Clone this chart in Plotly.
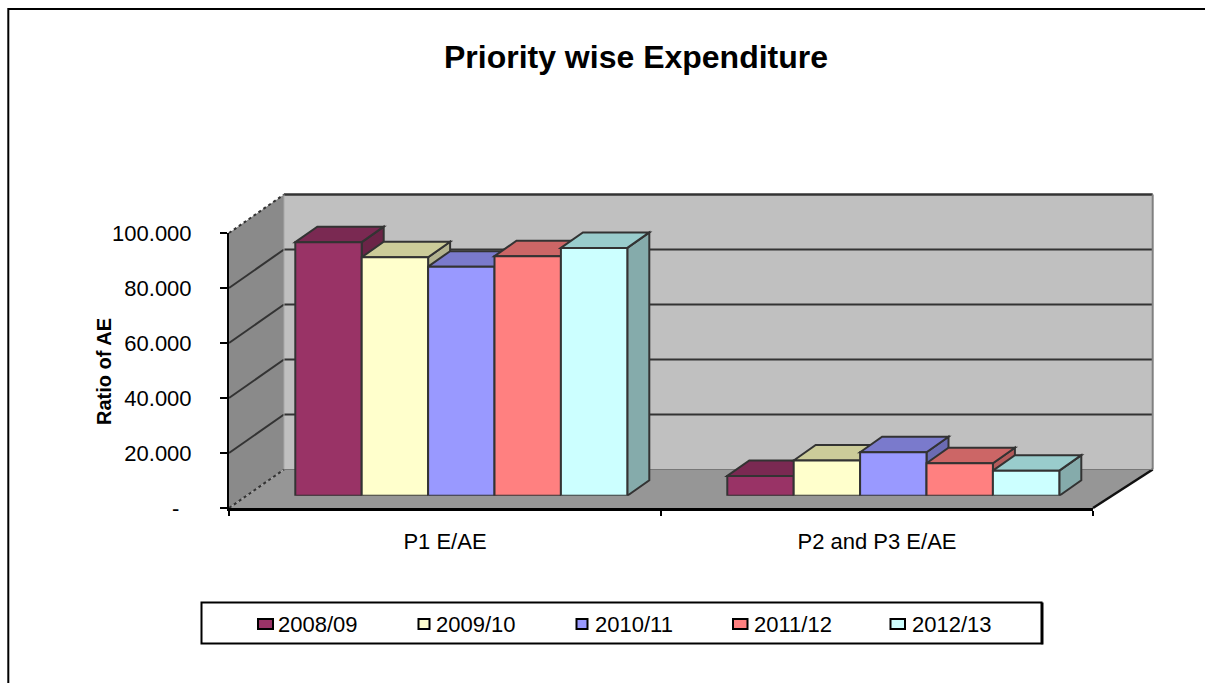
import plotly.graph_objects as go

W, H = 1205, 683

# ---- data ----
categories = ["P1 E/AE", "P2 and P3 E/AE"]
years = ["2008/09", "2009/10", "2010/11", "2011/12", "2012/13"]
v_2008 = [92.2, 7.2]
v_2009 = [86.7, 12.8]
v_2010 = [83.3, 15.8]
v_2011 = [87.1, 11.8]
v_2012 = [90.1, 9.1]
series_values = [v_2008, v_2009, v_2010, v_2011, v_2012]
y_ticks = [0, 20, 40, 60, 80, 100]
y_tick_labels = ["-\u00a0\u00a0", "20.000", "40.000", "60.000", "80.000", "100.000"]

front = ["#993366", "#FFFFCC", "#9999FF", "#FF8080", "#CCFFFF"]
top_c = ["#7A2952", "#CCCC99", "#7A7ACC", "#CC6666", "#99CCCC"]
side_c = ["#6B2447", "#B3B38F", "#6B6BB3", "#B35A5A", "#85ABAB"]

FONT = "Liberation Sans, Arial, sans-serif"
EDGE = "#333333"

# ---- layout geometry (pixels) ----
AX_L, AX_R, AX_B, AX_T = 229.0, 1093.0, 508.0, 233.0     # front axis box
WALL_DX_L, WALL_DX_R, WALL_DY = 55.0, 59.7, 38.5         # depth of the walls
BAR_DX, BAR_DY = 16.3, 12.3                              # bars stand this far into the floor
FACE_DX, FACE_DY = 22.0, 15.5                            # depth of a bar
BAR_GAP = 0.2315


def px(x):
    return x / W


def py(y):
    return 1 - y / H


def unit_y():
    return (AX_B - AX_T) / 100.0


def wall_pt(cat_pos, val, depth):
    """front-axis data position, depth 0..1 -> paper coordinates"""
    frac = (cat_pos + 0.5) / 2
    x = AX_L + frac * (AX_R - AX_L) + depth * (WALL_DX_L + frac * (WALL_DX_R - WALL_DX_L))
    y = AX_B - val * unit_y() - depth * WALL_DY
    return px(x), py(y)


def poly(points):
    return "M" + "L".join(f"{a:.5f},{b:.5f}" for a, b in points) + "Z"


shapes = []


def paper_path(points, fill, line=None, lw=0, dash=None):
    ln = dict(color=line or "rgba(0,0,0,0)", width=lw)
    if dash:
        ln["dash"] = dash
    shapes.append(dict(type="path", xref="paper", yref="paper", layer="below",
                       path=poly(points), fillcolor=fill, line=ln))


def paper_line(a, b, color, lw, dash=None):
    ln = dict(color=color, width=lw)
    if dash:
        ln["dash"] = dash
    shapes.append(dict(type="line", xref="paper", yref="paper", layer="below",
                       x0=a[0], y0=a[1], x1=b[0], y1=b[1], line=ln))


# walls and floor
paper_path([wall_pt(-0.5, 100, 1), wall_pt(1.5, 100, 1), wall_pt(1.5, 0, 1), wall_pt(-0.5, 0, 1)], "#C0C0C0")
paper_path([wall_pt(-0.5, 100, 0), wall_pt(-0.5, 100, 1), wall_pt(-0.5, 0, 1), wall_pt(-0.5, 0, 0)], "#8A8A8A")
paper_path([wall_pt(-0.5, 0, 0), wall_pt(-0.5, 0, 1), wall_pt(1.5, 0, 1), wall_pt(1.5, 0, 0)], "#969696")

# gridlines on the walls
for t in y_ticks[1:5]:
    paper_line(wall_pt(-0.5, t, 0), wall_pt(-0.5, t, 1), EDGE, 2)
    paper_line(wall_pt(-0.5, t, 1), wall_pt(1.5, t, 1), EDGE, 2)
paper_line(wall_pt(-0.5, 100, 0), wall_pt(-0.5, 100, 1), EDGE, 2, "dot")
paper_line(wall_pt(-0.5, 0, 0), wall_pt(-0.5, 0, 1), EDGE, 2, "dot")
paper_line(wall_pt(-0.5, 100, 1), wall_pt(1.5, 100, 1), EDGE, 2.5)
paper_line(wall_pt(1.5, 100, 1), wall_pt(1.5, 0, 1), "#808080", 2)
paper_line(wall_pt(-0.5, 0, 1), wall_pt(-0.5, 100, 1), "#A8A8A8", 1)
paper_line(wall_pt(1.5, 0, 0), wall_pt(1.5, 0, 1), "#111111", 2.5)
paper_line(wall_pt(-0.5, 0, 1), wall_pt(1.5, 0, 1), "#777777", 1)

# chart area border (left and top only, the right and bottom fall outside the picture)
shapes.append(dict(type="path", xref="paper", yref="paper", layer="below",
                   path=f"M{px(8.3):.5f},0L{px(8.3):.5f},{py(9):.5f}L1,{py(9):.5f}",
                   line=dict(color="#000000", width=2)))

# depth faces of the bars, computed from the values on the bar axes
bar_w = (1 - BAR_GAP) / len(years)
cat_unit = (AX_R - AX_L) / 2
fdx = FACE_DX / cat_unit
fdy = FACE_DY / unit_y()
for c in range(len(categories)):
    for s, vals in enumerate(series_values):
        left = c + (s - len(years) / 2) * bar_w
        right = left + bar_w
        v = vals[c]
        top = [(left, v), (left + fdx, v + fdy), (right + fdx, v + fdy), (right, v)]
        side = [(right, 0), (right, v), (right + fdx, v + fdy), (right + fdx, fdy)]
        for pts, col in ((side, side_c[s]), (top, top_c[s])):
            shapes.append(dict(type="path", xref="x2", yref="y2", layer="below",
                               path=poly(pts), fillcolor=col,
                               line=dict(color=EDGE, width=2)))

fig = go.Figure()
# an empty trace so the visible front axes are drawn
fig.add_trace(go.Scatter(x=[0, 1], y=y_ticks[:2], mode="none", xaxis="x", yaxis="y",
                         showlegend=False, hoverinfo="skip"))
for s, name in enumerate(years):
    fig.add_trace(go.Bar(x=[0, 1], y=series_values[s], name=name, xaxis="x2", yaxis="y2",
                         marker=dict(color=front[s], line=dict(color=EDGE, width=2)),
                         showlegend=False))

# legend box
LEG_L, LEG_R, LEG_T, LEG_B = 201.5, 1041.5, 602.5, 643.5
shapes.append(dict(type="rect", xref="paper", yref="paper", layer="above",
                   x0=px(LEG_L), x1=px(LEG_R), y0=py(LEG_B), y1=py(LEG_T),
                   fillcolor="#FFFFFF", line=dict(color="#000000", width=2)))
shapes.append(dict(type="line", xref="paper", yref="paper", layer="above",
                   x0=px(LEG_R + 1), x1=px(LEG_R + 1), y0=py(LEG_B + 1), y1=py(LEG_T),
                   line=dict(color="#000000", width=2)))
leg_swatch = [(258, 273), (418.5, 429.5), (576.5, 587.5), (733, 747.5), (890.5, 905)]
leg_text = [276, 434, 593, 752, 910]
annotations = []
for s, name in enumerate(years):
    shapes.append(dict(type="rect", xref="paper", yref="paper", layer="above",
                       x0=px(leg_swatch[s][0]), x1=px(leg_swatch[s][1]),
                       y0=py(629), y1=py(619), fillcolor=front[s],
                       line=dict(color="#000000", width=2)))
    annotations.append(dict(xref="paper", yref="paper", x=px(leg_text[s]), y=py(624),
                            xanchor="left", yanchor="middle", showarrow=False, text=name,
                            font=dict(family=FONT, size=22, color="#000000")))

# y axis title
annotations.append(dict(xref="paper", yref="paper", x=px(104), y=py(372), textangle=-90,
                        xanchor="center", yanchor="middle", showarrow=False,
                        text="<b>Ratio of AE</b>",
                        font=dict(family=FONT, size=20, color="#000000")))

fig.update_layout(
    width=W, height=H, autosize=False,
    margin=dict(l=0, r=0, t=0, b=0, autoexpand=False),
    paper_bgcolor="#FFFFFF", plot_bgcolor="rgba(0,0,0,0)",
    barmode="group", bargap=BAR_GAP, bargroupgap=0,
    showlegend=False,
    title=dict(text="<b>Priority wise Expenditure</b>", x=px(636), y=py(57),
               xanchor="center", yanchor="middle", xref="paper", yref="paper",
               font=dict(family=FONT, size=32, color="#000000")),
    font=dict(family=FONT, color="#000000"),
    xaxis=dict(domain=[px(AX_L), px(AX_R)], range=[-0.5, 1.5], anchor="y", automargin=False,
               tickmode="array", tickvals=[0, 1], ticktext=categories, ticks="",
               ticklabelstandoff=12,
               tickfont=dict(family=FONT, size=22, color="#000000"),
               showgrid=False, zeroline=False, showline=True, linecolor="#000000", linewidth=3,
               minor=dict(tickmode="array", tickvals=[-0.5, 0.5, 1.5], ticks="outside",
                          ticklen=5, tickwidth=2, tickcolor="#000000", showgrid=False)),
    yaxis=dict(domain=[py(AX_B), py(AX_T)], range=[0, 100], anchor="x", automargin=False,
               tickmode="array", tickvals=y_ticks, ticktext=y_tick_labels, ticks="outside",
               ticklen=7, tickwidth=2, tickcolor="#000000", ticklabelstandoff=24,
               tickfont=dict(family=FONT, size=22, color="#000000"),
               showgrid=False, zeroline=False, showline=True, linecolor="#000000", linewidth=2),
    xaxis2=dict(domain=[px(AX_L + BAR_DX), px(AX_R + BAR_DX)], range=[-0.5, 1.5], anchor="y2",
                visible=False),
    yaxis2=dict(domain=[py(AX_B - BAR_DY), py(AX_T - BAR_DY)], range=[0, 100], anchor="x2",
                visible=False),
    shapes=shapes, annotations=annotations,
)

fig.write_html("out.html", config=dict(displayModeBar=False),
               post_script="document.body.style.margin='0';")
